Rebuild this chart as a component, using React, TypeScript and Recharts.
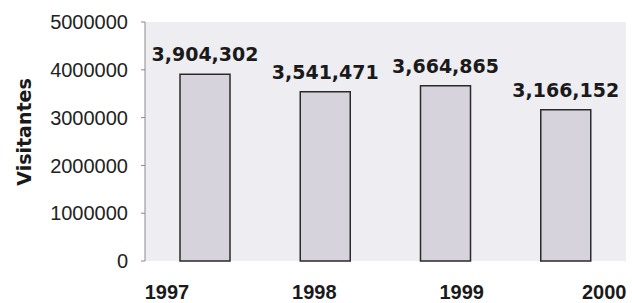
import React from "react";
import { BarChart, Bar, XAxis, YAxis, CartesianGrid, LabelList, Label } from "recharts";

const years = ["1997", "1998", "1999", "2000"];
const yearNums = [1997, 1998, 1999, 2000];
const visitantes = [3904302, 3541471, 3664865, 3166152];
const yTicks = [0, 1000000, 2000000, 3000000, 4000000, 5000000];

const data = years.map((y, i) => ({ cat: y, year: yearNums[i], v: visitantes[i] }));

const fmt = (v: any) => Number(v).toLocaleString("en-US");

export default function App() {
  return (
    <div style={{ position: "absolute", left: 0, top: 0, width: 632, height: 303, background: "#ffffff" }}>
      <BarChart width={632} height={303} data={data} margin={{ top: 22, right: 6, left: 0, bottom: 0 }} barSize={50}>
        <CartesianGrid horizontal={false} vertical={false} fill="#eeedf1" />
        <XAxis dataKey="cat" hide height={0} />
        <XAxis
          xAxisId="yr"
          dataKey="year"
          type="number"
          domain={[1997, 2000]}
          ticks={yearNums}
          padding={{ left: 22, right: 17 }}
          axisLine={false}
          tickLine={false}
          tickMargin={18}
          height={42}
          tick={{ fontFamily: "Liberation Sans, Arial, sans-serif", fontWeight: "bold", fontSize: 20, fill: "#1a1a1a" }}
        />
        <YAxis
          width={145}
          domain={[0, 5000000]}
          ticks={yTicks}
          interval={0}
          axisLine={{ stroke: "#8a8a8a" }}
          tickLine={{ stroke: "#8a8a8a" }}
          tickSize={4}
          tickMargin={13}
          tick={{ fontFamily: "Liberation Sans, Arial, sans-serif", fontSize: 20, fill: "#222222" }}
        >
          <Label
            content={() => (
              <text
                x={24}
                y={132}
                transform="rotate(-90 24 132)"
                textAnchor="middle"
                dominantBaseline="central"
                fontFamily="DejaVu Sans, Verdana, sans-serif"
                fontWeight="bold"
                fontSize={19}
                fill="#1a1a1a"
              >
                Visitantes
              </text>
            )}
          />
        </YAxis>
        <Bar dataKey="v" fill="#d6d3dc" stroke="#2a2a2a" strokeWidth={1.5} isAnimationActive={false}>
          <LabelList
            dataKey="v"
            position="top"
            offset={13}
            formatter={fmt}
            style={{ fontFamily: "DejaVu Sans, Verdana, sans-serif", fontWeight: "bold", fontSize: 19, fill: "#1a1a1a" }}
          />
        </Bar>
      </BarChart>
    </div>
  );
}
